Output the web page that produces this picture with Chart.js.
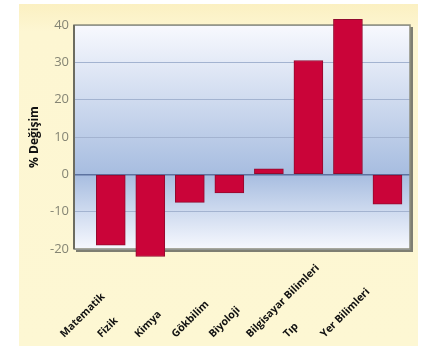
<!DOCTYPE html>
<html>
<head>
<meta charset="utf-8">
<script src="https://cdn.jsdelivr.net/npm/chart.js@4/dist/chart.umd.min.js"></script>
<style>
  html, body { margin: 0; padding: 0; background: #ffffff; }
  #wrap { width: 426px; height: 349px; }
</style>
</head>
<body>
<div id="wrap"><canvas id="c" width="426" height="349"></canvas></div>
<script>
// ---- data ----
const categories = ["Matematik", "Fizik", "Kimya", "Gökbilim", "Biyoloji", "Bilgisayar Bilimleri", "Tıp", "Yer Bilimleri"];
const changeValues = [-19, -22, -7.5, -5, 1.5, 30.5, 41.5, -8];
const yTicks = [40, 30, 20, 10, 0, -10, -20];
const yTitle = "% Değişim";

const points = categories.map((c, i) => ({ x: i, y: changeValues[i] }));

const panelPlugin = {
  id: 'panel',
  beforeDraw(chart) {
    const ctx = chart.ctx;
    const a = chart.chartArea;
    const ys = chart.scales.y;
    ctx.save();
    const pg = ctx.createLinearGradient(0, 4, 0, 346);
    pg.addColorStop(0, '#FBF0C2');
    pg.addColorStop(0.08, '#FDF6D2');
    pg.addColorStop(1, '#FDF7D3');
    ctx.fillStyle = pg;
    ctx.fillRect(19, 4, 399, 342);
    ctx.fillStyle = '#7E7E72';
    ctx.fillRect(a.left + 2, a.top + 2, a.right - a.left + 1, a.bottom - a.top + 1);
    const z = (ys.getPixelForValue(0) - a.top) / (a.bottom - a.top);
    const g = ctx.createLinearGradient(0, a.top, 0, a.bottom);
    g.addColorStop(0, '#F8F9FE');
    g.addColorStop(z, '#A7BDE0');
    g.addColorStop(1, '#F6F8FE');
    ctx.fillStyle = g;
    ctx.fillRect(a.left, a.top, a.right - a.left, a.bottom - a.top);
    ctx.restore();
  },
  beforeDatasetsDraw(chart) {
    const ctx = chart.ctx;
    const a = chart.chartArea;
    ctx.save();
    ctx.strokeStyle = '#8E8E7E';
    ctx.lineWidth = 1.5;
    ctx.strokeRect(a.left, a.top, a.right - a.left, a.bottom - a.top);
    ctx.fillStyle = '#6C6C60';
    ctx.fillRect(a.left - 1, a.top, 2, a.bottom - a.top);
    ctx.restore();
  },
  afterDraw(chart) {
    const ctx = chart.ctx;
    const ls = chart.scales.xl;
    ctx.save();
    ctx.fillStyle = '#111111';
    ctx.font = 'bold 10.5px "Open Sans"';
    ctx.textAlign = 'left';
    ctx.textBaseline = 'alphabetic';
    categories.forEach((c, i) => {
      ctx.save();
      ctx.translate(ls.getPixelForValue(i), chart.height - 11);
      ctx.rotate(-Math.PI / 4);
      ctx.fillText(c, 0, 0);
      ctx.restore();
    });
    ctx.restore();
  }
};

new Chart(document.getElementById('c'), {
  type: 'bar',
  data: {
    datasets: [{
      data: points,
      backgroundColor: '#CA0439',
      borderColor: '#920A2E',
      borderWidth: 1,
      borderSkipped: false,
      barThickness: 29,
      clip: false
    }]
  },
  options: {
    responsive: false,
    animation: false,
    layout: { padding: { left: 0, right: 16, top: 25, bottom: 100 } },
    plugins: { legend: { display: false }, tooltip: { enabled: false } },
    scales: {
      x: {
        type: 'linear',
        display: false,
        offset: false,
        grid: { offset: false },
        min: -0.93,
        max: 7.57
      },
      xl: {
        type: 'linear',
        display: false,
        offset: false,
        grid: { offset: false },
        axis: 'x',
        position: 'bottom',
        min: 0.261,
        max: 9.298
      },
      y: {
        min: -20,
        max: 40,
        afterBuildTicks(s) { s.ticks = yTicks.map(v => ({ value: v })); },
        afterFit(s) { s.width = 74; },
        border: { display: false },
        grid: {
          drawTicks: false,
          color: (c) => (c.tick && c.tick.value === 0) ? '#5D73A0' : '#A3B3D0',
          lineWidth: (c) => (c.tick && c.tick.value === 0) ? 1.5 : 1
        },
        ticks: {
          padding: 5,
          color: '#858574',
          font: { family: '"Open Sans"', size: 13 }
        },
        title: {
          display: true,
          text: yTitle,
          color: '#111111',
          font: { family: '"Open Sans"', size: 12, weight: 'bold' },
          padding: { top: 27, bottom: 0 }
        }
      }
    }
  },
  plugins: [panelPlugin]
});
</script>
</body>
</html>
